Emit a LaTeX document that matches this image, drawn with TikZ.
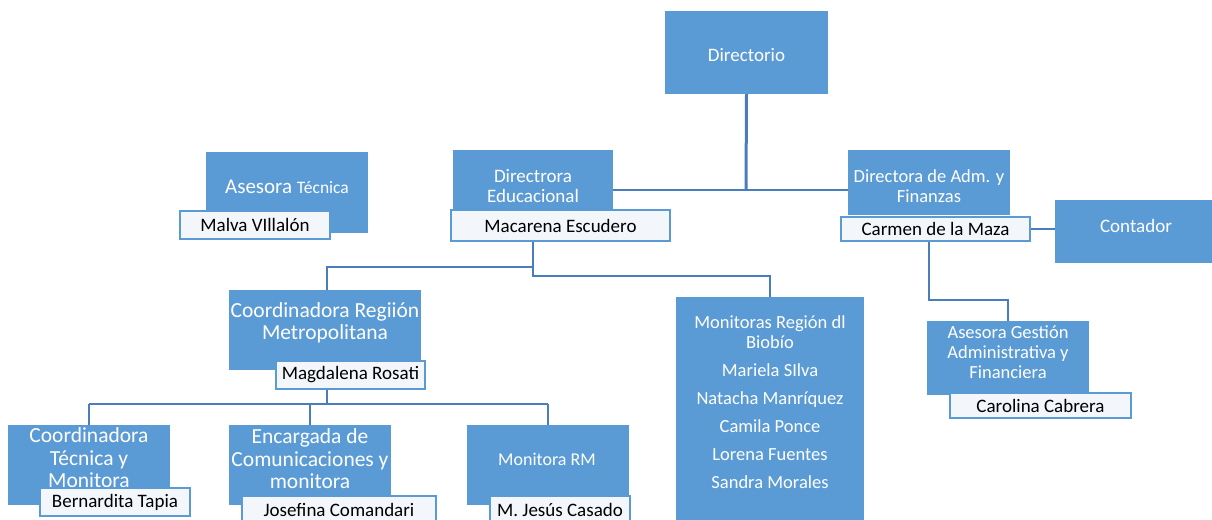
\documentclass[tikz,border=0pt]{standalone}
\usepackage{fontspec}
\setmainfont{Carlito}
\definecolor{boxblue}{HTML}{5B9BD5}
\definecolor{linkblue}{HTML}{4A7EBB}
\definecolor{namefill}{HTML}{F3F6FB}
\begin{document}
\begin{tikzpicture}[x=1bp,y=-1bp,
  bbox/.style n args={2}{fill=boxblue,draw=none,inner sep=0pt,minimum width=#1bp,minimum height=#2bp},
  nbox/.style n args={2}{fill=namefill,draw=boxblue,line width=2bp,inner sep=0pt,minimum width=#1bp,minimum height=#2bp,text=black,font=\fontsize{19bp}{20bp}\selectfont},
  btxt/.style={text=white,align=center,inner sep=0pt,font=\fontsize{19bp}{20bp}\selectfont},
  bigtxt/.style={btxt,font=\fontsize{21.5bp}{22.5bp}\selectfont},
  conn/.style={draw=linkblue,line width=2.5bp}]
\useasboundingbox (0,0) rectangle (1212,520);
\clip (0,0) rectangle (1212,520);
\fill[white] (0,0) rectangle (1212,520);

% Directorio
\node[bbox={163}{83}] (dir) at (746.5,52.5) {};
\node[btxt] (tdir) at (746.5,55) {Directorio};

% Asesora Tecnica
\node[bbox={162}{81}] (at) at (287,192.5) {};
\node[btxt,font=\fontsize{21bp}{22bp}\selectfont] (tat) at (287,187) {Asesora {\fontsize{17.5bp}{20bp}\selectfont Técnica}};
\node[nbox={150}{28}] (mv) at (255,225) {Malva VIllalón};

% Directrora Educacional
\node[bbox={160}{60}] (de) at (533,180) {};
\node[btxt] (tde) at (533,186) {Directrora\\Educacional};
\node[nbox={219}{31}] (me) at (560.5,225.5) {Macarena Escudero};

% Directora de Adm
\node[bbox={162}{65}] (da) at (929,182.5) {};
\node[btxt,font=\fontsize{18.5bp}{20bp}\selectfont] (tda) at (929,186) {Directora de Adm. y\\Finanzas};
\node[nbox={189}{24}] (cm) at (935.5,229) {Carmen de la Maza};

% Contador
\node[bbox={157}{63}] (cont) at (1133.5,231.5) {};
\node[btxt] (tcont) at (1136,226) {Contador};

% Asesora Gestion
\node[bbox={162}{74}] (ag) at (1008,358) {};
\node[btxt,font=\fontsize{18.5bp}{20bp}\selectfont] (tag) at (1008,352) {Asesora Gestión\\Administrativa y\\Financiera};
\node[nbox={181}{25}] (cc) at (1040.5,405.5) {Carolina Cabrera};

% Coordinadora Region Metropolitana
\node[bbox={192}{80}] (crm) at (325,330) {};
\node[bigtxt] (tcrm) at (325,323) {Coordinadora Regiión\\Metropolitana};
\node[nbox={149}{28}] (mr) at (350.5,375) {Magdalena Rosati};

% Monitoras Region Biobio
\node[bbox={188}{227}] (mon) at (770,410.5) {};
\node[btxt,font=\fontsize{18.5bp}{20bp}\selectfont] (tmon) at (770,402) {Monitoras Región dl\\Biobío\\[8bp]Mariela SIlva\\[8bp]Natacha Manríquez\\[8bp]Camila Ponce\\[8bp]Lorena Fuentes\\[8bp]Sandra Morales};

% Coordinadora Tecnica y Monitora
\node[bbox={162}{80}] (ct) at (89,465) {};
\node[bigtxt] (tct) at (89,458) {Coordinadora\\Técnica y\\Monitora};
\node[nbox={150}{28}] (bt) at (115,502) {Bernardita Tapia};

% Encargada de Comunicaciones
\node[bbox={162}{80}] (ec) at (310,465) {};
\node[bigtxt] (tec) at (310,459) {Encargada de\\Comunicaciones y\\monitora};
\node[nbox={194}{28}] (jc) at (339,510) {Josefina Comandari};

% Monitora RM
\node[bbox={162}{80}] (mrm) at (548,465) {};
\node[btxt,font=\fontsize{18bp}{20bp}\selectfont] (tmrm) at (547,459) {Monitora RM};
\node[nbox={140}{28}] (mjc) at (560,510) {M. Jesús Casado};

% connectors
\coordinate (j1) at (746,190);
\coordinate (j2) at (533,267);
\coordinate (j3) at (533,276);
\coordinate (j4) at (929,300);
\coordinate (j5) at (327,404);
\draw[conn,line width=3bp] (dir.south) -- (j1);
\draw[conn] (de.east |- j1) -- (da.west |- j1);
\draw[conn] (de.south |- me.south) -- (j3) -- (j3 -| mon.north) -- (mon.north);
\draw[conn] (j2) -- (j2 -| 327,0) -- (327,0 |- crm.north);
\draw[conn] (cm.east) -- (cm.east -| cont.west);
\draw[conn] (da.south |- cm.south) -- (j4) -- (j4 -| ag.north) -- (ag.north);
\draw[conn] (j5 |- mr.south) -- (j5);
\draw[conn] (j5 -| ct.north) -- (j5 -| mrm.north);
\draw[conn] (j5 -| ct.north) -- (ct.north);
\draw[conn] (j5 -| ec.north) -- (ec.north);
\draw[conn] (j5 -| mrm.north) -- (mrm.north);
\end{tikzpicture}
\end{document}
